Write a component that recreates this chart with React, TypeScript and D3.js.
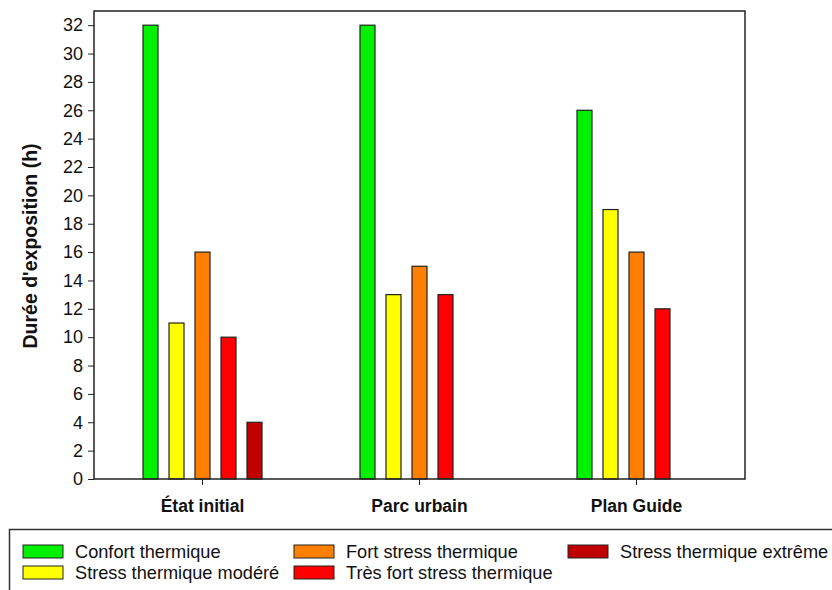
import { useEffect, useRef } from "react";
import * as d3 from "d3";

const groups = ["État initial", "Parc urbain", "Plan Guide"];
const seriesNames = [
  "Confort thermique",
  "Stress thermique modéré",
  "Fort stress thermique",
  "Très fort stress thermique",
  "Stress thermique extrême",
];
const seriesColors = ["#00f000", "#ffff00", "#ff8000", "#ff0000", "#c00000"];
// one array per group, in series order (null = no bar)
const etatInitial = [32, 11, 16, 10, 4];
const parcUrbain = [32, 13, 15, 13, null];
const planGuide = [26, 19, 16, 12, null];
const yTicks = d3.range(0, 33, 2);

const App = () => {
  const svgRef = useRef<SVGSVGElement>(null);

  useEffect(() => {
    if (!svgRef.current) return;
    const svg = d3.select(svgRef.current);
    svg.selectAll("*").remove();
    const font = "'Liberation Sans', Arial, sans-serif";
    const margin = { left: 94, top: 11, right: 745, bottom: 479 };
    const values = [etatInitial, parcUrbain, planGuide];

    const x = d3.scaleBand().domain(groups).range([margin.left, margin.right]);
    const clusterW = 119;
    const xInner = d3
      .scaleBand()
      .domain(seriesNames)
      .range([0, clusterW])
      .paddingInner(0.423)
      .paddingOuter(0);
    const y = d3.scaleLinear().domain([0, 33]).range([margin.bottom, margin.top]);

    const g = svg.append("g");

    values.forEach((vals, gi) => {
      const cx = (x(groups[gi]) as number) + x.bandwidth() / 2 - clusterW / 2;
      vals.forEach((v, si) => {
        if (v == null) return;
        g.append("rect")
          .attr("x", cx + (xInner(seriesNames[si]) as number))
          .attr("y", y(v))
          .attr("width", xInner.bandwidth())
          .attr("height", y(0) - y(v))
          .attr("fill", seriesColors[si])
          .attr("stroke", "#222")
          .attr("stroke-width", 1.2);
      });
    });

    // frame
    svg
      .append("rect")
      .attr("x", margin.left)
      .attr("y", margin.top)
      .attr("width", margin.right - margin.left)
      .attr("height", margin.bottom - margin.top)
      .attr("fill", "none")
      .attr("stroke", "#222")
      .attr("stroke-width", 1.5);

    const yAxis = svg
      .append("g")
      .attr("transform", `translate(${margin.left},0)`)
      .call(d3.axisLeft(y).tickValues(yTicks).tickSize(6).tickPadding(5));
    yAxis.select(".domain").remove();
    yAxis.selectAll("line").attr("stroke", "#222");
    yAxis
      .selectAll("text")
      .attr("font-family", font)
      .attr("font-size", 18)
      .attr("fill", "#111");

    const xAxis = svg
      .append("g")
      .attr("transform", `translate(0,${margin.bottom})`)
      .call(d3.axisBottom(x).tickSize(6).tickPadding(15));
    xAxis.select(".domain").remove();
    xAxis.selectAll("line").attr("stroke", "#222");
    xAxis
      .selectAll("text")
      .attr("font-family", font)
      .attr("font-size", 17.5)
      .attr("font-weight", "bold")
      .attr("fill", "#111");

    svg
      .append("text")
      .attr("transform", `translate(37,${(margin.top + margin.bottom) / 2 + 1}) rotate(-90)`)
      .attr("text-anchor", "middle")
      .attr("font-family", font)
      .attr("font-size", 19.5)
      .attr("font-weight", "bold")
      .attr("fill", "#111")
      .text("Durée d'exposition (h)");

    // legend
    svg
      .append("rect")
      .attr("x", 9.5)
      .attr("y", 529.5)
      .attr("width", 840)
      .attr("height", 80)
      .attr("fill", "none")
      .attr("stroke", "#333")
      .attr("stroke-width", 1.5);
    const legendPos = [
      [23, 545],
      [23, 566],
      [294, 545],
      [294, 566],
      [568, 545],
    ];
    seriesNames.forEach((name, i) => {
      const [lx, ly] = legendPos[i];
      svg
        .append("rect")
        .attr("x", lx)
        .attr("y", ly)
        .attr("width", 40)
        .attr("height", 13)
        .attr("fill", seriesColors[i])
        .attr("stroke", "#222")
        .attr("stroke-width", 1);
      svg
        .append("text")
        .attr("x", lx + 52)
        .attr("y", ly + 13)
        .attr("font-family", font)
        .attr("font-size", 18.2)
        .attr("fill", "#111")
        .text(name);
    });
  }, []);

  return (
    <svg
      ref={svgRef}
      width={832}
      height={590}
      style={{ position: "absolute", left: 0, top: 0, background: "#fff" }}
    />
  );
};

export default App;
